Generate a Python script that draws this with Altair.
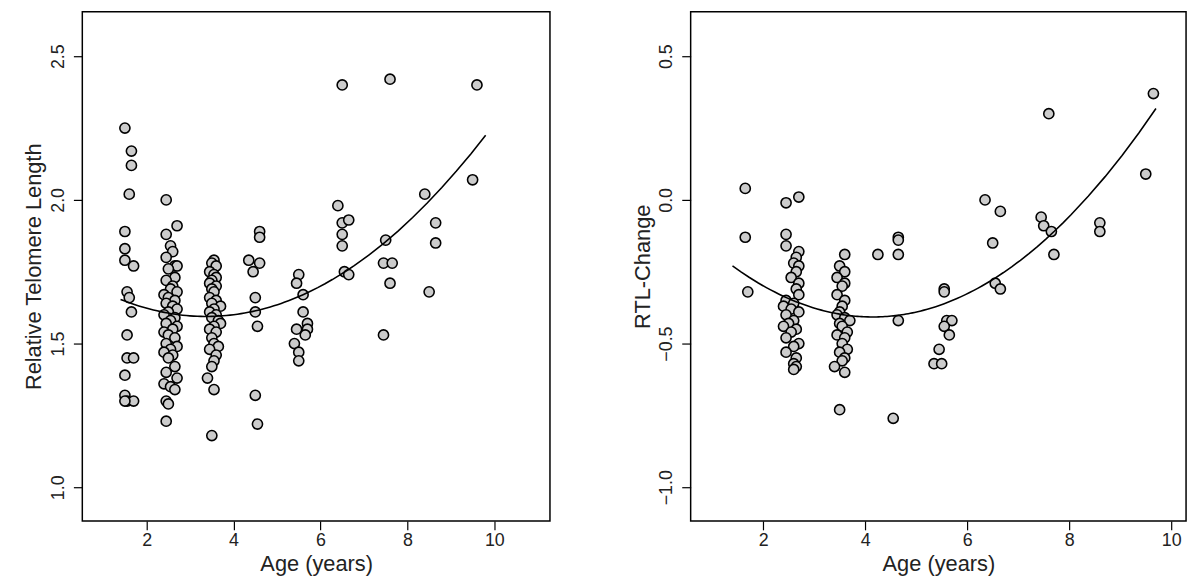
import pandas as pd
import altair as alt

# Left panel: Relative Telomere Length by age
rtl_age = [1.5, 1.65, 1.65, 1.6, 1.5, 1.5, 1.5, 1.7, 1.55, 1.6, 1.65, 1.55, 1.55, 1.7, 1.5, 1.5, 1.55, 1.7, 1.5]
rtl_val = [2.25, 2.17, 2.12, 2.02, 1.89, 1.83, 1.79, 1.77, 1.68, 1.66, 1.61, 1.53, 1.45, 1.45, 1.39, 1.32, 1.30, 1.30, 1.30]

c2 = [2.00, 1.91, 1.88, 1.84, 1.82, 1.80, 1.77, 1.77, 1.76, 1.73, 1.72, 1.70, 1.69, 1.68, 1.67, 1.66, 1.65, 1.64,
      1.63, 1.62, 1.61, 1.60, 1.59, 1.58, 1.57, 1.56, 1.55, 1.54, 1.53, 1.52, 1.50, 1.49, 1.48, 1.47, 1.46, 1.45,
      1.42, 1.40, 1.38, 1.36, 1.35, 1.34, 1.30, 1.29, 1.23]
c2x = [2.45, 2.7, 2.45, 2.55, 2.6, 2.45, 2.65, 2.7, 2.5, 2.65, 2.45, 2.6, 2.55, 2.7, 2.4, 2.5, 2.65, 2.45,
       2.6, 2.7, 2.5, 2.4, 2.65, 2.55, 2.45, 2.7, 2.6, 2.4, 2.5, 2.65, 2.45, 2.7, 2.55, 2.4, 2.6, 2.5,
       2.65, 2.45, 2.7, 2.4, 2.55, 2.65, 2.45, 2.5, 2.45]
c3 = [1.79, 1.78, 1.77, 1.75, 1.74, 1.73, 1.72, 1.71, 1.70, 1.69, 1.68, 1.66, 1.65, 1.64, 1.63, 1.62, 1.61,
      1.60, 1.59, 1.58, 1.57, 1.56, 1.55, 1.54, 1.52, 1.50, 1.49, 1.48, 1.46, 1.44, 1.42, 1.38, 1.34, 1.18]
c3x = [3.55, 3.5, 3.6, 3.45, 3.55, 3.6, 3.5, 3.45, 3.6, 3.5, 3.55, 3.45, 3.6, 3.5, 3.7, 3.55, 3.45,
       3.6, 3.5, 3.65, 3.7, 3.55, 3.45, 3.6, 3.5, 3.55, 3.65, 3.45, 3.6, 3.55, 3.5, 3.4, 3.55, 3.5]
rtl_age += c2x + c3x + [4.35, 4.6, 4.6, 4.45, 4.6, 4.5, 4.5, 4.55, 4.5, 4.55,
                        5.5, 5.45, 5.6, 5.6, 5.45, 5.7, 5.7, 5.65, 5.4, 5.5, 5.5,
                        6.5, 6.4, 6.5, 6.65, 6.5, 6.5, 6.55, 6.65,
                        7.6, 7.5, 7.45, 7.65, 7.6, 7.45,
                        8.4, 8.65, 8.65, 8.5,
                        9.6, 9.5]
rtl_val += c2 + c3 + [1.79, 1.89, 1.87, 1.75, 1.78, 1.66, 1.61, 1.56, 1.32, 1.22,
                      1.74, 1.71, 1.67, 1.61, 1.55, 1.57, 1.55, 1.53, 1.50, 1.47, 1.44,
                      2.40, 1.98, 1.92, 1.93, 1.88, 1.84, 1.75, 1.74,
                      2.42, 1.86, 1.78, 1.78, 1.71, 1.53,
                      2.02, 1.92, 1.85, 1.68,
                      2.40, 2.07]

# Right panel: RTL-Change by age
chg_age = [1.65, 1.65, 1.7]
chg_val = [0.04, -0.13, -0.32]
d2 = [0.01, -0.01, -0.12, -0.16, -0.18, -0.20, -0.22, -0.23, -0.25, -0.27, -0.29, -0.31, -0.33, -0.35, -0.36,
      -0.37, -0.38, -0.39, -0.40, -0.42, -0.43, -0.44, -0.45, -0.46, -0.48, -0.50, -0.51, -0.53, -0.55,
      -0.57, -0.58, -0.59]
d2x = [2.7, 2.45, 2.45, 2.45, 2.7, 2.65, 2.6, 2.7, 2.65, 2.55, 2.7, 2.65, 2.7, 2.45, 2.6,
       2.4, 2.55, 2.7, 2.45, 2.6, 2.5, 2.4, 2.65, 2.55, 2.45, 2.7, 2.6, 2.45, 2.65,
       2.6, 2.65, 2.6]
d3 = [-0.19, -0.23, -0.25, -0.27, -0.29, -0.30, -0.33, -0.35, -0.37, -0.39, -0.40, -0.41, -0.42, -0.43,
      -0.44, -0.46, -0.47, -0.48, -0.50, -0.52, -0.53, -0.55, -0.56, -0.58, -0.60, -0.73]
d3x = [3.6, 3.5, 3.6, 3.45, 3.6, 3.55, 3.45, 3.6, 3.55, 3.5, 3.45, 3.6, 3.7, 3.5,
       3.55, 3.65, 3.45, 3.6, 3.55, 3.65, 3.5, 3.6, 3.55, 3.4, 3.6, 3.5]
chg_age += d2x + d3x + [4.25, 4.65, 4.65, 4.65, 4.65, 4.55,
                        5.55, 5.55, 5.6, 5.7, 5.55, 5.65, 5.45, 5.35, 5.5,
                        6.35, 6.65, 6.5, 6.55, 6.65,
                        7.6, 7.45, 7.5, 7.65, 7.7,
                        8.6, 8.6,
                        9.65, 9.5]
chg_val += d2 + d3 + [-0.19, -0.13, -0.14, -0.19, -0.42, -0.76,
                      -0.31, -0.32, -0.42, -0.42, -0.44, -0.47, -0.52, -0.57, -0.57,
                      0.0, -0.04, -0.15, -0.29, -0.31,
                      0.30, -0.06, -0.09, -0.11, -0.19,
                      -0.08, -0.11,
                      0.37, 0.09]


def panel(age, val, title, xdom, ydom, yticks, width, extent):
    df = pd.DataFrame({"age": age, "val": val})
    x = alt.X("age:Q", title="Age (years)",
              scale=alt.Scale(domain=xdom, nice=False, zero=False),
              axis=alt.Axis(values=[2, 4, 6, 8, 10]))
    y = alt.Y("val:Q", title=title,
              scale=alt.Scale(domain=ydom, nice=False, zero=False),
              axis=alt.Axis(values=yticks, format=".1f", labelAngle=-90,
                            labelAlign="center", labelBaseline="bottom", labelPadding=6))
    pts = alt.Chart(df).mark_point(filled=True, size=105, fill="#cccccc", stroke="black",
                                   strokeWidth=1.6, opacity=1).encode(x=x, y=y)
    fit = alt.Chart(df).transform_regression(
        "age", "val", method="poly", order=2, extent=extent
    ).mark_line(color="black", strokeWidth=1.6).encode(x=x, y=y)
    return (pts + fit).properties(width=width, height=514)


left = panel(rtl_age, rtl_val, "Relative Telomere Length", [0.52, 11.28], [0.883, 2.655],
             [1.0, 1.5, 2.0, 2.5], 472, [1.4, 9.8])
right = panel(chg_age, chg_val, "RTL-Change", [0.58, 10.29], [-1.117, 0.655],
              [-1.0, -0.5, 0.0, 0.5], 500, [1.4, 9.7])

chart = alt.hconcat(left, right, spacing=80).configure_view(
    stroke="black", strokeWidth=1.5
).configure_axis(
    grid=False, domain=False, tickColor="black", tickSize=9, tickWidth=1.2,
    labelFont="Liberation Sans", labelFontSize=18, labelColor="#222",
    titleFont="Liberation Sans", titleFontSize=22, titleFontWeight="normal", titleColor="#222"
).properties(padding={"left": 14, "top": 0, "right": 5, "bottom": 5})

chart.save("out.html", embed_options={"renderer": "svg", "actions": False})
